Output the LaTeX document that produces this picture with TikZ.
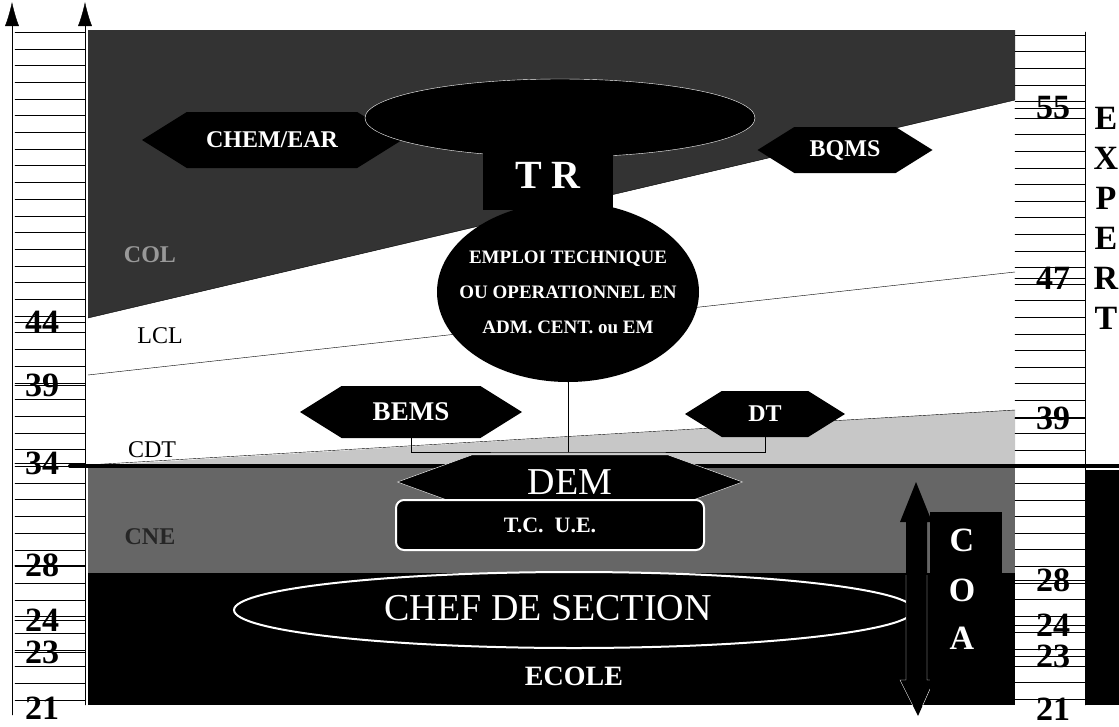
\documentclass[tikz,border=0pt]{standalone}
\usepackage{fontspec}
\setmainfont{Liberation Serif}
\usetikzlibrary{arrows.meta,shapes.geometric,shapes.symbols}

\tikzset{
  hexa/.style={shape=signal, signal to=west and east, signal pointer angle=64,
    fill=black, text=white, inner sep=0pt, font=\fontsize{24}{26}\selectfont\bfseries},
  grad/.style={inner sep=0pt, font=\fontsize{34}{34}\selectfont\bfseries},
  band/.style={inner sep=0pt, font=\fontsize{24}{26}\selectfont},
  letter/.style={inner sep=0pt, font=\fontsize{34}{34}\selectfont\bfseries},
}

\begin{document}
\begin{tikzpicture}[x=1pt, y=-1pt, line cap=round]
  \useasboundingbox (0,0) rectangle (1119,726);

  % grade bands
  \fill[black!80] (88,30) -- (1015,30) -- (1015,100) -- (88,318) -- cycle;
  \fill[black!22] (88,466) -- (1015,410) -- (1015,466) -- cycle;
  \fill[black!60] (88,468) rectangle (1015,573);
  \fill[black] (88,573) rectangle (1015,705);
  \draw (88,318) -- (1015,100);
  \draw (88,375) -- (1015,272);
  \draw (70,466) -- (1015,410);
  \draw[line width=4pt] (70,466) -- (1119,466);

  % left age scale
  \draw[-{Latex[length=24pt,width=14pt]}] (12,715) -- (12,2);
  \draw[-{Latex[length=24pt,width=14pt]}] (85,705) -- (85,2);
  \foreach \k in {0,...,40}
    \draw (15,32+16.7*\k) -- (85,32+16.7*\k);
  \foreach \v/\y in {44/322,39/385,34/463,28/565,24/620,23/652} {
    \draw[thick] (15,\y) -- (85,\y);
    \node[grad] (l\v) at (42,\y) {\v};
  }
  \node[grad] (l21) at (42,708) {21};

  % right age scale
  \draw (1085,32) -- (1085,705);
  \foreach \k in {0,...,40}
    \draw (1015,35+16.6*\k) -- (1085,35+16.6*\k);
  \foreach \v/\y in {55/108,47/278,39/418,28/580,24/625,23/656} {
    \draw[thick] (1015,\y) -- (1085,\y);
    \node[grad] (r\v) at (1053,\y) {\v};
  }
  \node[grad] (r21) at (1053,709) {21};

  % expert column
  \fill[black] (1085,470) rectangle (1119,705);
  \foreach \c [count=\i] in {E,X,P,E,R,T}
    \node[letter] (x\i) at (1106,78+40*\i) {\c};

  % band names
  \node[band, text=black!40, font=\fontsize{24}{26}\selectfont\bfseries] (col) at (150,255) {COL};
  \node[band] (lcl) at (160,336) {LCL};
  \node[band] (cdt) at (152,450) {CDT};
  \node[band, text=black!85, font=\fontsize{24}{26}\selectfont\bfseries] (cne) at (150,537) {CNE};

  % upper jobs
  \node[hexa, minimum width=260pt, minimum height=56pt] (chem) at (272,140) {CHEM/EAR};
  \node[hexa, minimum width=175pt, minimum height=46pt] (bqms) at (845,150) {BQMS};
  \node[ellipse, fill=black, draw=white, minimum width=390pt, minimum height=78pt] (topell) at (560,118) {};
  \node[fill=black, text=white, minimum width=130pt, minimum height=70pt,
    font=\fontsize{40}{40}\selectfont\bfseries] (tr) at (548,175) {T R};
  \node[ellipse, fill=black, minimum width=262pt, minimum height=180pt] (emploi) at (568,292) {};
  \node[align=center, text=white, inner sep=0pt, font=\fontsize{19}{35}\selectfont\bfseries] (emploitxt) at (568,292)
    {EMPLOI TECHNIQUE\\OU OPERATIONNEL EN\\ADM. CENT. ou EM};
  \node[hexa, minimum width=222pt, minimum height=52pt, font=\fontsize{27}{28}\selectfont\bfseries] (bems) at (411,412) {BEMS};
  \node[hexa, minimum width=160pt, minimum height=46pt] (dt) at (765,414) {DT};

  % lower jobs
  \node[hexa, signal pointer angle=40, draw=white, minimum width=345pt, minimum height=54pt,
    font=\fontsize{38}{38}\selectfont] (dem) at (570,482) {DEM};
  \coordinate (jn) at (568,452);
  \draw (bems.south) |- (jn) -| (dt.south);
  \draw (emploi.south) -- (jn);
  \node[fill=black, draw=white, line width=2pt, rounded corners=8pt, minimum width=308pt, minimum height=50pt,
    text=white, font=\fontsize{22}{24}\selectfont\bfseries] (tcue) at (550,525) {T.C.\ \ U.E.};
  \node[ellipse, fill=black, draw=white, line width=2pt, minimum width=680pt, minimum height=76pt] (chefsec) at (574,610) {};
  \node[text=white, inner sep=0pt, font=\fontsize{38}{38}\selectfont] (cheftxt) at (548,608) {CHEF DE SECTION};
  \node[text=white, inner sep=0pt, font=\fontsize{28}{28}\selectfont\bfseries] (ecole) at (574,676) {ECOLE};

  % COA
  \fill[black] (916,482) -- (932,522) -- (927,522) -- (927,680) -- (934,680) -- (918,716)
    -- (900,680) -- (906,680) -- (906,522) -- (900,522) -- cycle;
  \begin{scope}
    \clip (880,575) rectangle (940,705);
    \draw[white] (927,522) -- (927,680) -- (934,680) -- (918,716) -- (900,680) -- (906,680) -- (906,522);
  \end{scope}
  \node[fill=black, minimum width=72pt, minimum height=190pt] (coa) at (966,607) {};
  \foreach \c/\y in {C/540,O/590,A/638}
    \node[letter, text=white] (coa\c) at (962,\y) {\c};
\end{tikzpicture}
\end{document}
